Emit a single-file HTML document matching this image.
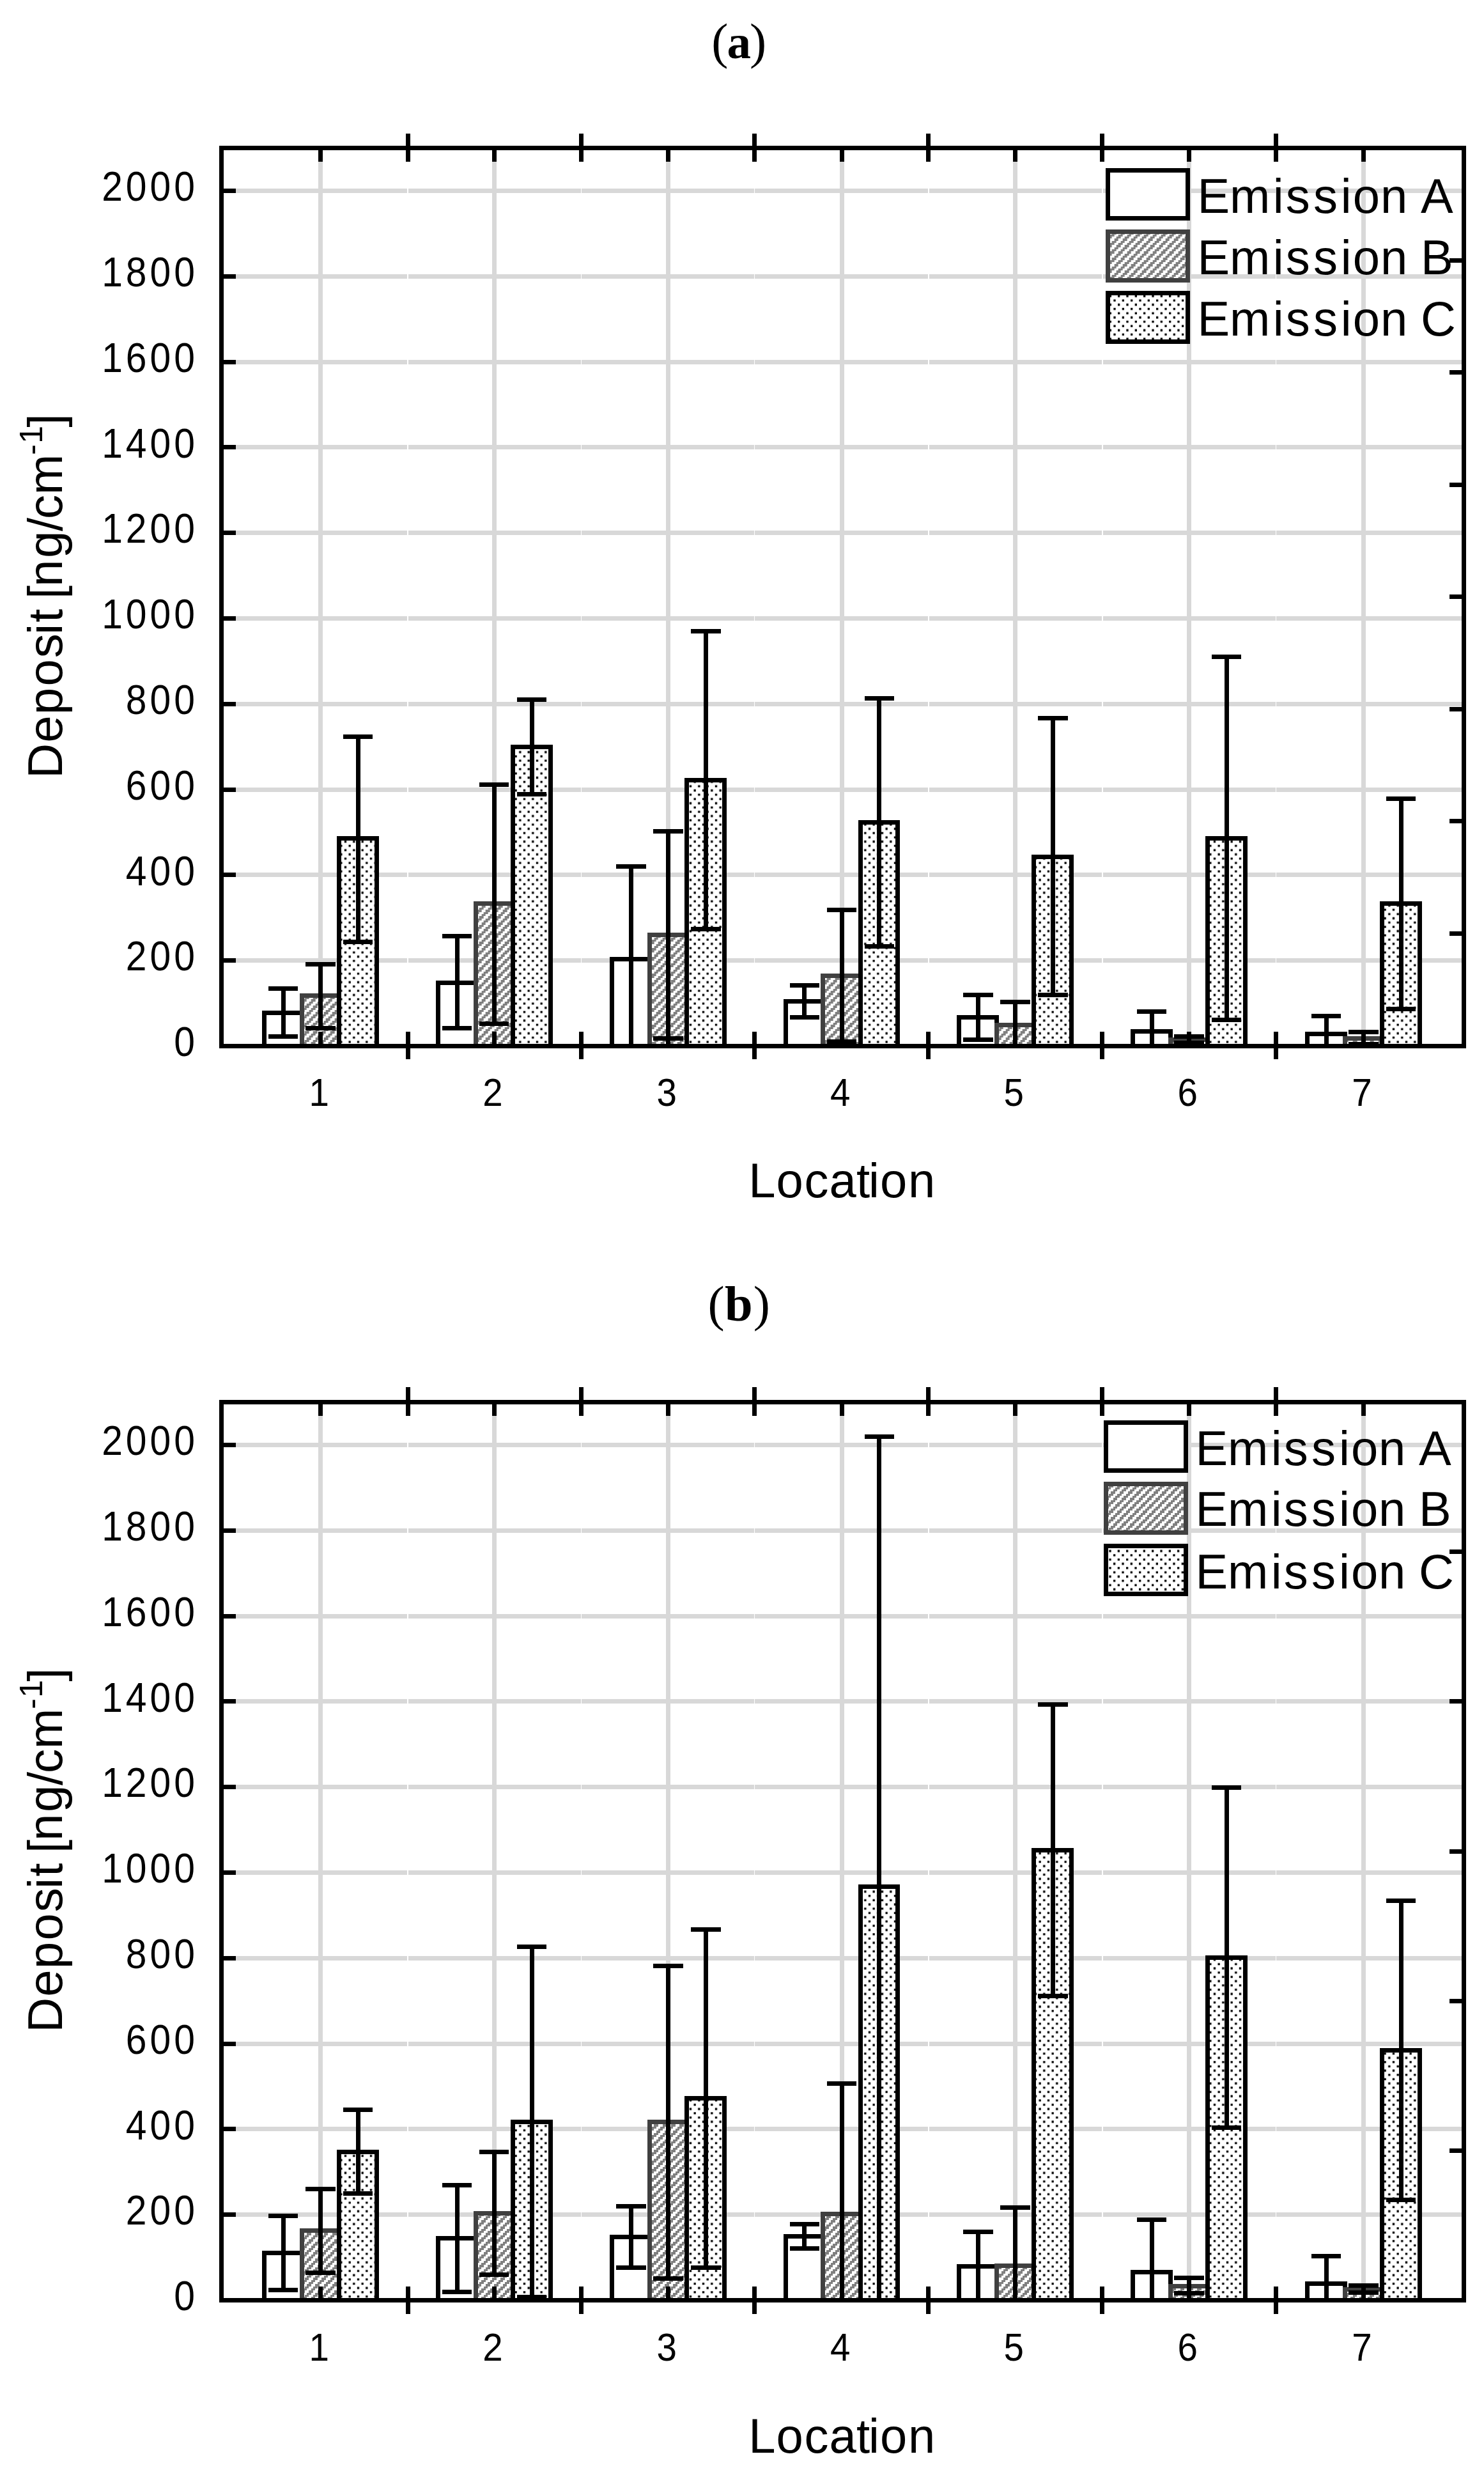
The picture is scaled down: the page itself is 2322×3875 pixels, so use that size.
<!DOCTYPE html>
<html lang="en">
<head>
<meta charset="utf-8">
<title>Deposit by location</title>
<style>
html,body{margin:0;padding:0;background:#fff;}
body{width:2322px;height:3875px;overflow:hidden;}
svg{display:block;}
text{font-family:"Liberation Sans",Arial,sans-serif;fill:#000;}
.tick text{font-size:64px;letter-spacing:5.4px;}
.xt text{font-size:61.5px;}
.ttl{font-size:76px;}
.sup{font-size:50px;}
.cap{font-family:"Liberation Serif","Times New Roman",serif;font-size:78.5px;}
.capb{font-weight:bold;font-size:75px;}
</style>
</head>
<body>
<svg width="2322" height="3875" viewBox="0 0 2322 3875">
<defs>
<pattern id="hatch-a" patternUnits="userSpaceOnUse" x="-3.33" y="0" width="40" height="40"><rect width="40" height="40" fill="#fff"/><path d="M0 0h3.33v3.33h-3.33zM3.33 0h3.33v3.33h-3.33zM13.33 0h3.33v3.33h-3.33zM16.67 0h3.33v3.33h-3.33zM26.67 0h3.33v3.33h-3.33zM30 0h3.33v3.33h-3.33zM0 3.33h3.33v3.33h-3.33zM10 3.33h3.33v3.33h-3.33zM13.33 3.33h3.33v3.33h-3.33zM23.33 3.33h3.33v3.33h-3.33zM26.67 3.33h3.33v3.33h-3.33zM36.67 3.33h3.33v3.33h-3.33zM6.67 6.67h3.33v3.33h-3.33zM10 6.67h3.33v3.33h-3.33zM20 6.67h3.33v3.33h-3.33zM23.33 6.67h3.33v3.33h-3.33zM33.33 6.67h3.33v3.33h-3.33zM36.67 6.67h3.33v3.33h-3.33zM3.33 10h3.33v3.33h-3.33zM6.67 10h3.33v3.33h-3.33zM16.67 10h3.33v3.33h-3.33zM20 10h3.33v3.33h-3.33zM30 10h3.33v3.33h-3.33zM33.33 10h3.33v3.33h-3.33zM0 13.33h3.33v3.33h-3.33zM3.33 13.33h3.33v3.33h-3.33zM13.33 13.33h3.33v3.33h-3.33zM16.67 13.33h3.33v3.33h-3.33zM26.67 13.33h3.33v3.33h-3.33zM30 13.33h3.33v3.33h-3.33zM0 16.67h3.33v3.33h-3.33zM10 16.67h3.33v3.33h-3.33zM13.33 16.67h3.33v3.33h-3.33zM23.33 16.67h3.33v3.33h-3.33zM26.67 16.67h3.33v3.33h-3.33zM36.67 16.67h3.33v3.33h-3.33zM6.67 20h3.33v3.33h-3.33zM10 20h3.33v3.33h-3.33zM20 20h3.33v3.33h-3.33zM23.33 20h3.33v3.33h-3.33zM33.33 20h3.33v3.33h-3.33zM36.67 20h3.33v3.33h-3.33zM3.33 23.33h3.33v3.33h-3.33zM6.67 23.33h3.33v3.33h-3.33zM16.67 23.33h3.33v3.33h-3.33zM20 23.33h3.33v3.33h-3.33zM30 23.33h3.33v3.33h-3.33zM33.33 23.33h3.33v3.33h-3.33zM0 26.67h3.33v3.33h-3.33zM3.33 26.67h3.33v3.33h-3.33zM13.33 26.67h3.33v3.33h-3.33zM16.67 26.67h3.33v3.33h-3.33zM26.67 26.67h3.33v3.33h-3.33zM30 26.67h3.33v3.33h-3.33zM0 30h3.33v3.33h-3.33zM10 30h3.33v3.33h-3.33zM13.33 30h3.33v3.33h-3.33zM23.33 30h3.33v3.33h-3.33zM26.67 30h3.33v3.33h-3.33zM36.67 30h3.33v3.33h-3.33zM6.67 33.33h3.33v3.33h-3.33zM10 33.33h3.33v3.33h-3.33zM20 33.33h3.33v3.33h-3.33zM23.33 33.33h3.33v3.33h-3.33zM33.33 33.33h3.33v3.33h-3.33zM36.67 33.33h3.33v3.33h-3.33zM3.33 36.67h3.33v3.33h-3.33zM6.67 36.67h3.33v3.33h-3.33zM16.67 36.67h3.33v3.33h-3.33zM20 36.67h3.33v3.33h-3.33zM30 36.67h3.33v3.33h-3.33zM33.33 36.67h3.33v3.33h-3.33z" fill="#808080" shape-rendering="crispEdges"/></pattern>
<pattern id="lhatch-a" patternUnits="userSpaceOnUse" x="-3.33" y="0" width="40" height="40"><rect width="40" height="40" fill="#fff"/><path d="M0 0h3.33v3.33h-3.33zM3.33 0h3.33v3.33h-3.33zM13.33 0h3.33v3.33h-3.33zM16.67 0h3.33v3.33h-3.33zM26.67 0h3.33v3.33h-3.33zM30 0h3.33v3.33h-3.33zM0 3.33h3.33v3.33h-3.33zM10 3.33h3.33v3.33h-3.33zM13.33 3.33h3.33v3.33h-3.33zM23.33 3.33h3.33v3.33h-3.33zM26.67 3.33h3.33v3.33h-3.33zM36.67 3.33h3.33v3.33h-3.33zM6.67 6.67h3.33v3.33h-3.33zM10 6.67h3.33v3.33h-3.33zM20 6.67h3.33v3.33h-3.33zM23.33 6.67h3.33v3.33h-3.33zM33.33 6.67h3.33v3.33h-3.33zM36.67 6.67h3.33v3.33h-3.33zM3.33 10h3.33v3.33h-3.33zM6.67 10h3.33v3.33h-3.33zM16.67 10h3.33v3.33h-3.33zM20 10h3.33v3.33h-3.33zM30 10h3.33v3.33h-3.33zM33.33 10h3.33v3.33h-3.33zM0 13.33h3.33v3.33h-3.33zM3.33 13.33h3.33v3.33h-3.33zM13.33 13.33h3.33v3.33h-3.33zM16.67 13.33h3.33v3.33h-3.33zM26.67 13.33h3.33v3.33h-3.33zM30 13.33h3.33v3.33h-3.33zM0 16.67h3.33v3.33h-3.33zM10 16.67h3.33v3.33h-3.33zM13.33 16.67h3.33v3.33h-3.33zM23.33 16.67h3.33v3.33h-3.33zM26.67 16.67h3.33v3.33h-3.33zM36.67 16.67h3.33v3.33h-3.33zM6.67 20h3.33v3.33h-3.33zM10 20h3.33v3.33h-3.33zM20 20h3.33v3.33h-3.33zM23.33 20h3.33v3.33h-3.33zM33.33 20h3.33v3.33h-3.33zM36.67 20h3.33v3.33h-3.33zM3.33 23.33h3.33v3.33h-3.33zM6.67 23.33h3.33v3.33h-3.33zM16.67 23.33h3.33v3.33h-3.33zM20 23.33h3.33v3.33h-3.33zM30 23.33h3.33v3.33h-3.33zM33.33 23.33h3.33v3.33h-3.33zM0 26.67h3.33v3.33h-3.33zM3.33 26.67h3.33v3.33h-3.33zM13.33 26.67h3.33v3.33h-3.33zM16.67 26.67h3.33v3.33h-3.33zM26.67 26.67h3.33v3.33h-3.33zM30 26.67h3.33v3.33h-3.33zM0 30h3.33v3.33h-3.33zM10 30h3.33v3.33h-3.33zM13.33 30h3.33v3.33h-3.33zM23.33 30h3.33v3.33h-3.33zM26.67 30h3.33v3.33h-3.33zM36.67 30h3.33v3.33h-3.33zM6.67 33.33h3.33v3.33h-3.33zM10 33.33h3.33v3.33h-3.33zM20 33.33h3.33v3.33h-3.33zM23.33 33.33h3.33v3.33h-3.33zM33.33 33.33h3.33v3.33h-3.33zM36.67 33.33h3.33v3.33h-3.33zM3.33 36.67h3.33v3.33h-3.33zM6.67 36.67h3.33v3.33h-3.33zM16.67 36.67h3.33v3.33h-3.33zM20 36.67h3.33v3.33h-3.33zM30 36.67h3.33v3.33h-3.33zM33.33 36.67h3.33v3.33h-3.33z" fill="#808080" shape-rendering="crispEdges"/></pattern>
<pattern id="hatch-b" patternUnits="userSpaceOnUse" x="0" y="0" width="40" height="40"><rect width="40" height="40" fill="#fff"/><path d="M0 0h3.33v3.33h-3.33zM3.33 0h3.33v3.33h-3.33zM13.33 0h3.33v3.33h-3.33zM16.67 0h3.33v3.33h-3.33zM26.67 0h3.33v3.33h-3.33zM30 0h3.33v3.33h-3.33zM0 3.33h3.33v3.33h-3.33zM10 3.33h3.33v3.33h-3.33zM13.33 3.33h3.33v3.33h-3.33zM23.33 3.33h3.33v3.33h-3.33zM26.67 3.33h3.33v3.33h-3.33zM36.67 3.33h3.33v3.33h-3.33zM6.67 6.67h3.33v3.33h-3.33zM10 6.67h3.33v3.33h-3.33zM20 6.67h3.33v3.33h-3.33zM23.33 6.67h3.33v3.33h-3.33zM33.33 6.67h3.33v3.33h-3.33zM36.67 6.67h3.33v3.33h-3.33zM3.33 10h3.33v3.33h-3.33zM6.67 10h3.33v3.33h-3.33zM16.67 10h3.33v3.33h-3.33zM20 10h3.33v3.33h-3.33zM30 10h3.33v3.33h-3.33zM33.33 10h3.33v3.33h-3.33zM0 13.33h3.33v3.33h-3.33zM3.33 13.33h3.33v3.33h-3.33zM13.33 13.33h3.33v3.33h-3.33zM16.67 13.33h3.33v3.33h-3.33zM26.67 13.33h3.33v3.33h-3.33zM30 13.33h3.33v3.33h-3.33zM0 16.67h3.33v3.33h-3.33zM10 16.67h3.33v3.33h-3.33zM13.33 16.67h3.33v3.33h-3.33zM23.33 16.67h3.33v3.33h-3.33zM26.67 16.67h3.33v3.33h-3.33zM36.67 16.67h3.33v3.33h-3.33zM6.67 20h3.33v3.33h-3.33zM10 20h3.33v3.33h-3.33zM20 20h3.33v3.33h-3.33zM23.33 20h3.33v3.33h-3.33zM33.33 20h3.33v3.33h-3.33zM36.67 20h3.33v3.33h-3.33zM3.33 23.33h3.33v3.33h-3.33zM6.67 23.33h3.33v3.33h-3.33zM16.67 23.33h3.33v3.33h-3.33zM20 23.33h3.33v3.33h-3.33zM30 23.33h3.33v3.33h-3.33zM33.33 23.33h3.33v3.33h-3.33zM0 26.67h3.33v3.33h-3.33zM3.33 26.67h3.33v3.33h-3.33zM13.33 26.67h3.33v3.33h-3.33zM16.67 26.67h3.33v3.33h-3.33zM26.67 26.67h3.33v3.33h-3.33zM30 26.67h3.33v3.33h-3.33zM0 30h3.33v3.33h-3.33zM10 30h3.33v3.33h-3.33zM13.33 30h3.33v3.33h-3.33zM23.33 30h3.33v3.33h-3.33zM26.67 30h3.33v3.33h-3.33zM36.67 30h3.33v3.33h-3.33zM6.67 33.33h3.33v3.33h-3.33zM10 33.33h3.33v3.33h-3.33zM20 33.33h3.33v3.33h-3.33zM23.33 33.33h3.33v3.33h-3.33zM33.33 33.33h3.33v3.33h-3.33zM36.67 33.33h3.33v3.33h-3.33zM3.33 36.67h3.33v3.33h-3.33zM6.67 36.67h3.33v3.33h-3.33zM16.67 36.67h3.33v3.33h-3.33zM20 36.67h3.33v3.33h-3.33zM30 36.67h3.33v3.33h-3.33zM33.33 36.67h3.33v3.33h-3.33z" fill="#808080" shape-rendering="crispEdges"/></pattern>
<pattern id="lhatch-b" patternUnits="userSpaceOnUse" x="5" y="0" width="40" height="40"><rect width="40" height="40" fill="#fff"/><path d="M0 0h3.33v3.33h-3.33zM3.33 0h3.33v3.33h-3.33zM13.33 0h3.33v3.33h-3.33zM16.67 0h3.33v3.33h-3.33zM26.67 0h3.33v3.33h-3.33zM30 0h3.33v3.33h-3.33zM0 3.33h3.33v3.33h-3.33zM10 3.33h3.33v3.33h-3.33zM13.33 3.33h3.33v3.33h-3.33zM23.33 3.33h3.33v3.33h-3.33zM26.67 3.33h3.33v3.33h-3.33zM36.67 3.33h3.33v3.33h-3.33zM6.67 6.67h3.33v3.33h-3.33zM10 6.67h3.33v3.33h-3.33zM20 6.67h3.33v3.33h-3.33zM23.33 6.67h3.33v3.33h-3.33zM33.33 6.67h3.33v3.33h-3.33zM36.67 6.67h3.33v3.33h-3.33zM3.33 10h3.33v3.33h-3.33zM6.67 10h3.33v3.33h-3.33zM16.67 10h3.33v3.33h-3.33zM20 10h3.33v3.33h-3.33zM30 10h3.33v3.33h-3.33zM33.33 10h3.33v3.33h-3.33zM0 13.33h3.33v3.33h-3.33zM3.33 13.33h3.33v3.33h-3.33zM13.33 13.33h3.33v3.33h-3.33zM16.67 13.33h3.33v3.33h-3.33zM26.67 13.33h3.33v3.33h-3.33zM30 13.33h3.33v3.33h-3.33zM0 16.67h3.33v3.33h-3.33zM10 16.67h3.33v3.33h-3.33zM13.33 16.67h3.33v3.33h-3.33zM23.33 16.67h3.33v3.33h-3.33zM26.67 16.67h3.33v3.33h-3.33zM36.67 16.67h3.33v3.33h-3.33zM6.67 20h3.33v3.33h-3.33zM10 20h3.33v3.33h-3.33zM20 20h3.33v3.33h-3.33zM23.33 20h3.33v3.33h-3.33zM33.33 20h3.33v3.33h-3.33zM36.67 20h3.33v3.33h-3.33zM3.33 23.33h3.33v3.33h-3.33zM6.67 23.33h3.33v3.33h-3.33zM16.67 23.33h3.33v3.33h-3.33zM20 23.33h3.33v3.33h-3.33zM30 23.33h3.33v3.33h-3.33zM33.33 23.33h3.33v3.33h-3.33zM0 26.67h3.33v3.33h-3.33zM3.33 26.67h3.33v3.33h-3.33zM13.33 26.67h3.33v3.33h-3.33zM16.67 26.67h3.33v3.33h-3.33zM26.67 26.67h3.33v3.33h-3.33zM30 26.67h3.33v3.33h-3.33zM0 30h3.33v3.33h-3.33zM10 30h3.33v3.33h-3.33zM13.33 30h3.33v3.33h-3.33zM23.33 30h3.33v3.33h-3.33zM26.67 30h3.33v3.33h-3.33zM36.67 30h3.33v3.33h-3.33zM6.67 33.33h3.33v3.33h-3.33zM10 33.33h3.33v3.33h-3.33zM20 33.33h3.33v3.33h-3.33zM23.33 33.33h3.33v3.33h-3.33zM33.33 33.33h3.33v3.33h-3.33zM36.67 33.33h3.33v3.33h-3.33zM3.33 36.67h3.33v3.33h-3.33zM6.67 36.67h3.33v3.33h-3.33zM16.67 36.67h3.33v3.33h-3.33zM20 36.67h3.33v3.33h-3.33zM30 36.67h3.33v3.33h-3.33zM33.33 36.67h3.33v3.33h-3.33z" fill="#808080" shape-rendering="crispEdges"/></pattern>
<pattern id="dots-a" patternUnits="userSpaceOnUse" x="-1.2" y="1.6" width="40" height="40"><rect width="40" height="40" fill="#fff"/><path d="M0 0h3.33v3.33h-3.33zM13.33 0h3.33v3.33h-3.33zM26.67 0h3.33v3.33h-3.33zM6.67 6.67h3.33v3.33h-3.33zM20 6.67h3.33v3.33h-3.33zM33.33 6.67h3.33v3.33h-3.33zM0 13.33h3.33v3.33h-3.33zM13.33 13.33h3.33v3.33h-3.33zM26.67 13.33h3.33v3.33h-3.33zM6.67 20h3.33v3.33h-3.33zM20 20h3.33v3.33h-3.33zM33.33 20h3.33v3.33h-3.33zM0 26.67h3.33v3.33h-3.33zM13.33 26.67h3.33v3.33h-3.33zM26.67 26.67h3.33v3.33h-3.33zM6.67 33.33h3.33v3.33h-3.33zM20 33.33h3.33v3.33h-3.33zM33.33 33.33h3.33v3.33h-3.33z" fill="#000"/></pattern>
<pattern id="ldots-a" patternUnits="userSpaceOnUse" x="9" y="1.67" width="40" height="40"><rect width="40" height="40" fill="#fff"/><path d="M0 0h3.33v3.33h-3.33zM13.33 0h3.33v3.33h-3.33zM26.67 0h3.33v3.33h-3.33zM6.67 6.67h3.33v3.33h-3.33zM20 6.67h3.33v3.33h-3.33zM33.33 6.67h3.33v3.33h-3.33zM0 13.33h3.33v3.33h-3.33zM13.33 13.33h3.33v3.33h-3.33zM26.67 13.33h3.33v3.33h-3.33zM6.67 20h3.33v3.33h-3.33zM20 20h3.33v3.33h-3.33zM33.33 20h3.33v3.33h-3.33zM0 26.67h3.33v3.33h-3.33zM13.33 26.67h3.33v3.33h-3.33zM26.67 26.67h3.33v3.33h-3.33zM6.67 33.33h3.33v3.33h-3.33zM20 33.33h3.33v3.33h-3.33zM33.33 33.33h3.33v3.33h-3.33z" fill="#000"/></pattern>
<pattern id="dots-b" patternUnits="userSpaceOnUse" x="-1.2" y="4.3" width="40" height="40"><rect width="40" height="40" fill="#fff"/><path d="M0 0h3.33v3.33h-3.33zM13.33 0h3.33v3.33h-3.33zM26.67 0h3.33v3.33h-3.33zM6.67 6.67h3.33v3.33h-3.33zM20 6.67h3.33v3.33h-3.33zM33.33 6.67h3.33v3.33h-3.33zM0 13.33h3.33v3.33h-3.33zM13.33 13.33h3.33v3.33h-3.33zM26.67 13.33h3.33v3.33h-3.33zM6.67 20h3.33v3.33h-3.33zM20 20h3.33v3.33h-3.33zM33.33 20h3.33v3.33h-3.33zM0 26.67h3.33v3.33h-3.33zM13.33 26.67h3.33v3.33h-3.33zM26.67 26.67h3.33v3.33h-3.33zM6.67 33.33h3.33v3.33h-3.33zM20 33.33h3.33v3.33h-3.33zM33.33 33.33h3.33v3.33h-3.33z" fill="#000"/></pattern>
<pattern id="ldots-b" patternUnits="userSpaceOnUse" x="2" y="11.4" width="40" height="40"><rect width="40" height="40" fill="#fff"/><path d="M0 0h3.33v3.33h-3.33zM13.33 0h3.33v3.33h-3.33zM26.67 0h3.33v3.33h-3.33zM6.67 6.67h3.33v3.33h-3.33zM20 6.67h3.33v3.33h-3.33zM33.33 6.67h3.33v3.33h-3.33zM0 13.33h3.33v3.33h-3.33zM13.33 13.33h3.33v3.33h-3.33zM26.67 13.33h3.33v3.33h-3.33zM6.67 20h3.33v3.33h-3.33zM20 20h3.33v3.33h-3.33zM33.33 20h3.33v3.33h-3.33zM0 26.67h3.33v3.33h-3.33zM13.33 26.67h3.33v3.33h-3.33zM26.67 26.67h3.33v3.33h-3.33zM6.67 33.33h3.33v3.33h-3.33zM20 33.33h3.33v3.33h-3.33zM33.33 33.33h3.33v3.33h-3.33z" fill="#000"/></pattern>
</defs>
<rect width="2322" height="3875" fill="#fff"/>
<g id="chart-a">
<path d="M346.5 1502.6H2290.7M346.5 1368.8H2290.7M346.5 1235H2290.7M346.5 1101.2H2290.7M346.5 967.4H2290.7M346.5 833.6H2290.7M346.5 699.8H2290.7M346.5 566H2290.7M346.5 432.2H2290.7M346.5 298.4H2290.7M501.6 231.5V1636M773.4 231.5V1636M1045.7 231.5V1636M1317.2 231.5V1636M1588.7 231.5V1636M1860.6 231.5V1636M2133.5 231.5V1636" stroke="#d8d8d8" stroke-width="7" fill="none" shape-rendering="crispEdges"/>
<path d="M638 241.5V1626M909.6 241.5V1626M1180.7 241.5V1626M1452.9 241.5V1626M1724.8 241.5V1626M1996.5 241.5V1626" stroke="#fff" stroke-width="1.5" fill="none" shape-rendering="crispEdges"/>
<rect x="413.85" y="1584.22" width="58.5" height="51.78" fill="#fff" stroke="#000" stroke-width="7" shape-rendering="crispEdges"/>
<rect x="472.35" y="1557.66" width="58.5" height="78.34" fill="url(#hatch-a)" stroke="#404040" stroke-width="7" shape-rendering="crispEdges"/>
<rect x="530.85" y="1311.93" width="58.5" height="324.07" fill="url(#dots-a)" stroke="#000" stroke-width="7" shape-rendering="crispEdges"/>
<rect x="685.65" y="1537.05" width="58.5" height="98.95" fill="#fff" stroke="#000" stroke-width="7" shape-rendering="crispEdges"/>
<rect x="744.15" y="1413.82" width="58.5" height="222.18" fill="url(#hatch-a)" stroke="#404040" stroke-width="7" shape-rendering="crispEdges"/>
<rect x="802.65" y="1168.43" width="58.5" height="467.57" fill="url(#dots-a)" stroke="#000" stroke-width="7" shape-rendering="crispEdges"/>
<rect x="957.95" y="1500.99" width="58.5" height="135.01" fill="#fff" stroke="#000" stroke-width="7" shape-rendering="crispEdges"/>
<rect x="1016.45" y="1462.46" width="58.5" height="173.54" fill="url(#hatch-a)" stroke="#404040" stroke-width="7" shape-rendering="crispEdges"/>
<rect x="1074.95" y="1220.68" width="58.5" height="415.32" fill="url(#dots-a)" stroke="#000" stroke-width="7" shape-rendering="crispEdges"/>
<rect x="1229.45" y="1566.16" width="58.5" height="69.84" fill="#fff" stroke="#000" stroke-width="7" shape-rendering="crispEdges"/>
<rect x="1287.95" y="1526.75" width="58.5" height="109.25" fill="url(#hatch-a)" stroke="#404040" stroke-width="7" shape-rendering="crispEdges"/>
<rect x="1346.45" y="1286.51" width="58.5" height="349.49" fill="url(#dots-a)" stroke="#000" stroke-width="7" shape-rendering="crispEdges"/>
<rect x="1500.95" y="1591.51" width="58.5" height="44.49" fill="#fff" stroke="#000" stroke-width="7" shape-rendering="crispEdges"/>
<rect x="1559.45" y="1603.28" width="58.5" height="32.72" fill="url(#hatch-a)" stroke="#404040" stroke-width="7" shape-rendering="crispEdges"/>
<rect x="1617.95" y="1340.23" width="58.5" height="295.77" fill="url(#dots-a)" stroke="#000" stroke-width="7" shape-rendering="crispEdges"/>
<rect x="1772.85" y="1613.65" width="58.5" height="22.35" fill="#fff" stroke="#000" stroke-width="7" shape-rendering="crispEdges"/>
<rect x="1831.35" y="1626.63" width="58.5" height="9.37" fill="url(#hatch-a)" stroke="#404040" stroke-width="7" shape-rendering="crispEdges"/>
<rect x="1889.85" y="1311.53" width="58.5" height="324.47" fill="url(#dots-a)" stroke="#000" stroke-width="7" shape-rendering="crispEdges"/>
<rect x="2045.75" y="1617.73" width="58.5" height="18.27" fill="#fff" stroke="#000" stroke-width="7" shape-rendering="crispEdges"/>
<rect x="2104.25" y="1624.36" width="58.5" height="11.64" fill="url(#hatch-a)" stroke="#404040" stroke-width="7" shape-rendering="crispEdges"/>
<rect x="2162.75" y="1413.62" width="58.5" height="222.38" fill="url(#dots-a)" stroke="#000" stroke-width="7" shape-rendering="crispEdges"/>
<path d="M501.6 1636V1614M501.6 231.5V252.8M773.4 1636V1614M773.4 231.5V252.8M1045.7 1636V1614M1045.7 231.5V252.8M1317.2 1636V1614M1317.2 231.5V252.8M1588.7 1636V1614M1588.7 231.5V252.8M1860.6 1636V1614M1860.6 231.5V252.8M2133.5 1636V1614M2133.5 231.5V252.8M443.2 1546.75V1621.68M420 1546.75H466.4M420 1621.68H466.4M501.4 1508.35V1608.1M478.2 1508.35H524.6M478.2 1608.1H524.6M560.2 1152.04V1473.83M537 1152.04H583.4M537 1473.83H583.4M715 1464.94V1608.44M691.8 1464.94H738.2M691.8 1608.44H738.2M773.2 1227.31V1601.08M750 1227.31H796.4M750 1601.08H796.4M832 1094.51V1242.76M808.8 1094.51H855.2M808.8 1242.76H855.2M987.3 1355.69V1636M964.1 1355.69H1010.5M1045.5 1300.56V1624.63M1022.3 1300.56H1068.7M1022.3 1624.63H1068.7M1104.3 987.47V1453.16M1081.1 987.47H1127.5M1081.1 1453.16H1127.5M1258.8 1541.13V1591.58M1235.6 1541.13H1282M1235.6 1591.58H1282M1317 1423.72V1629.71M1293.8 1423.72H1340.2M1293.8 1629.71H1340.2M1375.8 1092.64V1480.79M1352.6 1092.64H1399M1352.6 1480.79H1399M1530.3 1556.59V1626.1M1507.1 1556.59H1553.5M1507.1 1626.1H1553.5M1588.5 1567.63V1636M1565.3 1567.63H1611.7M1647.3 1123.54V1556.92M1624.1 1123.54H1670.5M1624.1 1556.92H1670.5M1802.2 1582.61V1636M1779 1582.61H1825.4M1860.4 1621.41V1631.05M1837.2 1621.41H1883.6M1837.2 1631.05H1883.6M1919.2 1027.14V1595.59M1896 1027.14H1942.4M1896 1595.59H1942.4M2075.1 1589.7V1636M2051.9 1589.7H2098.3M2133.3 1614.19V1633.06M2110.1 1614.19H2156.5M2110.1 1633.06H2156.5M2192.1 1249.05V1578.2M2168.9 1249.05H2215.3M2168.9 1578.2H2215.3M346.5 231.5H2290.7V1636H346.5ZM346.5 1502.6H368.7M346.5 1368.8H368.7M346.5 1235H368.7M346.5 1101.2H368.7M346.5 967.4H368.7M346.5 833.6H368.7M346.5 699.8H368.7M346.5 566H368.7M346.5 432.2H368.7M346.5 298.4H368.7M2290.7 1460.44H2268M2290.7 1284.88H2268M2290.7 1109.31H2268M2290.7 933.75H2268M2290.7 758.19H2268M2290.7 582.62H2268M2290.7 407.06H2268M638 1614V1657.3M638 208.5V252.8M909.6 1614V1657.3M909.6 208.5V252.8M1180.7 1614V1657.3M1180.7 208.5V252.8M1452.9 1614V1657.3M1452.9 208.5V252.8M1724.8 1614V1657.3M1724.8 208.5V252.8M1996.5 1614V1657.3M1996.5 208.5V252.8" stroke="#000" stroke-width="7" fill="none" stroke-linejoin="miter" shape-rendering="crispEdges"/>
<g class="tick" text-anchor="end">
<text transform="translate(310 1652.1) scale(0.92 1)">0</text>
<text transform="translate(310 1518.3) scale(0.92 1)">200</text>
<text transform="translate(310 1384.5) scale(0.92 1)">400</text>
<text transform="translate(310 1250.7) scale(0.92 1)">600</text>
<text transform="translate(310 1116.9) scale(0.92 1)">800</text>
<text transform="translate(310 983.1) scale(0.92 1)">1000</text>
<text transform="translate(310 849.3) scale(0.92 1)">1200</text>
<text transform="translate(310 715.5) scale(0.92 1)">1400</text>
<text transform="translate(310 581.7) scale(0.92 1)">1600</text>
<text transform="translate(310 447.9) scale(0.92 1)">1800</text>
<text transform="translate(310 314.1) scale(0.92 1)">2000</text>
</g>
<g class="tick xt" text-anchor="middle">
<text transform="translate(501.6 1729.5) scale(0.92 1)">1</text>
<text transform="translate(773.4 1729.5) scale(0.92 1)">2</text>
<text transform="translate(1045.7 1729.5) scale(0.92 1)">3</text>
<text transform="translate(1317.2 1729.5) scale(0.92 1)">4</text>
<text transform="translate(1588.7 1729.5) scale(0.92 1)">5</text>
<text transform="translate(1860.6 1729.5) scale(0.92 1)">6</text>
<text transform="translate(2133.5 1729.5) scale(0.92 1)">7</text>
</g>
<text class="ttl" x="1171.2 1214.6 1258.5 1297.6 1340.1 1359.1 1377.1 1421.1" y="1873">Location</text>
<text class="ttl" transform="translate(97.1 1217.8) rotate(-90)" x="0 56 99.8 144.4 188.5 225 244 265 280.9 300 344.9 386.8 405.8 443.8" y="0">Deposit [ng/cm<tspan class="sup" x="506 524.1" dy="-31">-1</tspan><tspan x="549.2" dy="31">]</tspan></text>
<rect x="1733.8" y="266.5" width="124.4" height="75.1" fill="#fff" stroke="#000" stroke-width="7" shape-rendering="crispEdges"/>
<text class="ttl" x="1873.4 1923.9 1991.7 2011.7 2055 2097.8 2116.8 2159.9 2203.4 2223" y="332.5">Emission A</text>
<rect x="1733.8" y="362.7" width="124.4" height="75.5" fill="url(#lhatch-a)" stroke="#404040" stroke-width="7" shape-rendering="crispEdges"/>
<text class="ttl" x="1873.4 1923.9 1991.7 2011.7 2055 2097.8 2116.8 2159.9 2203.4 2223" y="428.7">Emission B</text>
<rect x="1733.8" y="458.6" width="124.4" height="75.8" fill="url(#ldots-a)" stroke="#000" stroke-width="7" shape-rendering="crispEdges"/>
<text class="ttl" x="1873.4 1923.9 1991.7 2011.7 2055 2097.8 2116.8 2159.9 2203.4 2223" y="524.6">Emission C</text>
<text class="cap" x="1156.2" y="91.3" text-anchor="middle">(<tspan class="capb" dx="-1.8" style="font-size:75px">a</tspan><tspan dx="-2">)</tspan></text>
</g>
<g id="chart-b">
<path d="M346.5 3464.7H2290.7M346.5 3330.9H2290.7M346.5 3197.1H2290.7M346.5 3063.3H2290.7M346.5 2929.5H2290.7M346.5 2795.7H2290.7M346.5 2661.9H2290.7M346.5 2528.1H2290.7M346.5 2394.3H2290.7M346.5 2260.5H2290.7M501.6 2193.4V3598.6M773.4 2193.4V3598.6M1045.7 2193.4V3598.6M1317.2 2193.4V3598.6M1588.7 2193.4V3598.6M1860.6 2193.4V3598.6M2133.5 2193.4V3598.6" stroke="#d8d8d8" stroke-width="7" fill="none" shape-rendering="crispEdges"/>
<path d="M638 2203.4V3588.6M909.6 2203.4V3588.6M1180.7 2203.4V3588.6M1452.9 2203.4V3588.6M1724.8 2203.4V3588.6M1996.5 2203.4V3588.6" stroke="#fff" stroke-width="1.5" fill="none" shape-rendering="crispEdges"/>
<rect x="413.85" y="3524.51" width="58.5" height="74.09" fill="#fff" stroke="#000" stroke-width="7" shape-rendering="crispEdges"/>
<rect x="472.35" y="3489.52" width="58.5" height="109.08" fill="url(#hatch-b)" stroke="#404040" stroke-width="7" shape-rendering="crispEdges"/>
<rect x="530.85" y="3366.36" width="58.5" height="232.24" fill="url(#dots-b)" stroke="#000" stroke-width="7" shape-rendering="crispEdges"/>
<rect x="685.65" y="3501.29" width="58.5" height="97.31" fill="#fff" stroke="#000" stroke-width="7" shape-rendering="crispEdges"/>
<rect x="744.15" y="3462.29" width="58.5" height="136.31" fill="url(#hatch-b)" stroke="#404040" stroke-width="7" shape-rendering="crispEdges"/>
<rect x="802.65" y="3319.19" width="58.5" height="279.41" fill="url(#dots-b)" stroke="#000" stroke-width="7" shape-rendering="crispEdges"/>
<rect x="957.95" y="3499.69" width="58.5" height="98.91" fill="#fff" stroke="#000" stroke-width="7" shape-rendering="crispEdges"/>
<rect x="1016.45" y="3319.39" width="58.5" height="279.21" fill="url(#hatch-b)" stroke="#404040" stroke-width="7" shape-rendering="crispEdges"/>
<rect x="1074.95" y="3282.6" width="58.5" height="316" fill="url(#dots-b)" stroke="#000" stroke-width="7" shape-rendering="crispEdges"/>
<rect x="1229.45" y="3498.55" width="58.5" height="100.05" fill="#fff" stroke="#000" stroke-width="7" shape-rendering="crispEdges"/>
<rect x="1287.95" y="3463.63" width="58.5" height="134.97" fill="url(#hatch-b)" stroke="#404040" stroke-width="7" shape-rendering="crispEdges"/>
<rect x="1346.45" y="2951.58" width="58.5" height="647.02" fill="url(#dots-b)" stroke="#000" stroke-width="7" shape-rendering="crispEdges"/>
<rect x="1500.95" y="3545.85" width="58.5" height="52.75" fill="#fff" stroke="#000" stroke-width="7" shape-rendering="crispEdges"/>
<rect x="1559.45" y="3544.71" width="58.5" height="53.89" fill="url(#hatch-b)" stroke="#404040" stroke-width="7" shape-rendering="crispEdges"/>
<rect x="1617.95" y="2894.51" width="58.5" height="704.09" fill="url(#dots-b)" stroke="#000" stroke-width="7" shape-rendering="crispEdges"/>
<rect x="1772.85" y="3554.48" width="58.5" height="44.12" fill="#fff" stroke="#000" stroke-width="7" shape-rendering="crispEdges"/>
<rect x="1831.35" y="3576.09" width="58.5" height="22.51" fill="url(#hatch-b)" stroke="#404040" stroke-width="7" shape-rendering="crispEdges"/>
<rect x="1889.85" y="3062.43" width="58.5" height="536.17" fill="url(#dots-b)" stroke="#000" stroke-width="7" shape-rendering="crispEdges"/>
<rect x="2045.75" y="3572.41" width="58.5" height="26.19" fill="#fff" stroke="#000" stroke-width="7" shape-rendering="crispEdges"/>
<rect x="2104.25" y="3581.51" width="58.5" height="17.09" fill="url(#hatch-b)" stroke="#404040" stroke-width="7" shape-rendering="crispEdges"/>
<rect x="2162.75" y="3207.07" width="58.5" height="391.53" fill="url(#dots-b)" stroke="#000" stroke-width="7" shape-rendering="crispEdges"/>
<path d="M501.6 3598.6V3576.6M501.6 2193.4V2214.7M773.4 3598.6V3576.6M773.4 2193.4V2214.7M1045.7 3598.6V3576.6M1045.7 2193.4V2214.7M1317.2 3598.6V3576.6M1317.2 2193.4V2214.7M1588.7 3598.6V3576.6M1588.7 2193.4V2214.7M1860.6 3598.6V3576.6M1860.6 2193.4V2214.7M2133.5 3598.6V3576.6M2133.5 2193.4V2214.7M443.2 3466.04V3582.24M420 3466.04H466.4M420 3582.24H466.4M501.4 3424.02V3555.35M478.2 3424.02H524.6M478.2 3555.35H524.6M560.2 3300.8V3431.79M537 3300.8H583.4M537 3431.79H583.4M715 3418.54V3585.92M691.8 3418.54H738.2M691.8 3585.92H738.2M773.2 3366.62V3558.36M750 3366.62H796.4M750 3558.36H796.4M832 3045.5V3593.82M808.8 3045.5H855.2M808.8 3593.82H855.2M987.3 3451.86V3547.52M964.1 3451.86H1010.5M964.1 3547.52H1010.5M1045.5 3075.48V3564.78M1022.3 3075.48H1068.7M1022.3 3564.78H1068.7M1104.3 3018.08V3547.52M1081.1 3018.08H1127.5M1081.1 3547.52H1127.5M1258.8 3479.82V3517.68M1235.6 3479.82H1282M1235.6 3517.68H1282M1317 3259.05V3598.6M1293.8 3259.05H1340.2M1375.8 2247.79V3598.6M1352.6 2247.79H1399M1530.3 3491.73V3598.6M1507.1 3491.73H1553.5M1588.5 3453.26V3598.6M1565.3 3453.26H1611.7M1647.3 2666.11V3122.51M1624.1 2666.11H1670.5M1624.1 3122.51H1670.5M1802.2 3472.86V3598.6M1779 3472.86H1825.4M1860.4 3563.18V3587.86M1837.2 3563.18H1883.6M1837.2 3587.86H1883.6M1919.2 2796.37V3328.89M1896 2796.37H1942.4M1896 3328.89H1942.4M2075.1 3529.19V3598.6M2051.9 3529.19H2098.3M2133.3 3575.29V3586.59M2110.1 3575.29H2156.5M2110.1 3586.59H2156.5M2192.1 2973.32V3441.02M2168.9 2973.32H2215.3M2168.9 3441.02H2215.3M346.5 2193.4H2290.7V3598.6H346.5ZM346.5 3464.7H368.7M346.5 3330.9H368.7M346.5 3197.1H368.7M346.5 3063.3H368.7M346.5 2929.5H368.7M346.5 2795.7H368.7M346.5 2661.9H368.7M346.5 2528.1H368.7M346.5 2394.3H368.7M346.5 2260.5H368.7M2290.7 3364.4H2268M2290.7 3130.2H2268M2290.7 2896H2268M2290.7 2661.8H2268M2290.7 2427.6H2268M638 3576.6V3619.9M638 2170.4V2214.7M909.6 3576.6V3619.9M909.6 2170.4V2214.7M1180.7 3576.6V3619.9M1180.7 2170.4V2214.7M1452.9 3576.6V3619.9M1452.9 2170.4V2214.7M1724.8 3576.6V3619.9M1724.8 2170.4V2214.7M1996.5 3576.6V3619.9M1996.5 2170.4V2214.7" stroke="#000" stroke-width="7" fill="none" stroke-linejoin="miter" shape-rendering="crispEdges"/>
<g class="tick" text-anchor="end">
<text transform="translate(310 3614.2) scale(0.92 1)">0</text>
<text transform="translate(310 3480.4) scale(0.92 1)">200</text>
<text transform="translate(310 3346.6) scale(0.92 1)">400</text>
<text transform="translate(310 3212.8) scale(0.92 1)">600</text>
<text transform="translate(310 3079) scale(0.92 1)">800</text>
<text transform="translate(310 2945.2) scale(0.92 1)">1000</text>
<text transform="translate(310 2811.4) scale(0.92 1)">1200</text>
<text transform="translate(310 2677.6) scale(0.92 1)">1400</text>
<text transform="translate(310 2543.8) scale(0.92 1)">1600</text>
<text transform="translate(310 2410) scale(0.92 1)">1800</text>
<text transform="translate(310 2276.2) scale(0.92 1)">2000</text>
</g>
<g class="tick xt" text-anchor="middle">
<text transform="translate(501.6 3692.9) scale(0.92 1)">1</text>
<text transform="translate(773.4 3692.9) scale(0.92 1)">2</text>
<text transform="translate(1045.7 3692.9) scale(0.92 1)">3</text>
<text transform="translate(1317.2 3692.9) scale(0.92 1)">4</text>
<text transform="translate(1588.7 3692.9) scale(0.92 1)">5</text>
<text transform="translate(1860.6 3692.9) scale(0.92 1)">6</text>
<text transform="translate(2133.5 3692.9) scale(0.92 1)">7</text>
</g>
<text class="ttl" x="1171.2 1214.6 1258.5 1297.6 1340.1 1359.1 1377.1 1421.1" y="3837">Location</text>
<text class="ttl" transform="translate(97.1 3179.8) rotate(-90)" x="0 56 99.8 144.4 188.5 225 244 265 280.9 300 344.9 386.8 405.8 443.8" y="0">Deposit [ng/cm<tspan class="sup" x="506 524.1" dy="-31">-1</tspan><tspan x="549.2" dy="31">]</tspan></text>
<rect x="1730.55" y="2225.7" width="124.85" height="75.1" fill="#fff" stroke="#000" stroke-width="7" shape-rendering="crispEdges"/>
<text class="ttl" x="1870.5 1921 1988.8 2008.8 2052.1 2094.9 2113.9 2157 2200.5 2220.1" y="2291.7">Emission A</text>
<rect x="1730.55" y="2321.4" width="124.85" height="76" fill="url(#lhatch-b)" stroke="#404040" stroke-width="7" shape-rendering="crispEdges"/>
<text class="ttl" x="1870.5 1921 1988.8 2008.8 2052.1 2094.9 2113.9 2157 2200.5 2220.1" y="2387.4">Emission B</text>
<rect x="1730.55" y="2418.7" width="124.85" height="74.5" fill="url(#ldots-b)" stroke="#000" stroke-width="7" shape-rendering="crispEdges"/>
<text class="ttl" x="1870.5 1921 1988.8 2008.8 2052.1 2094.9 2113.9 2157 2200.5 2220.1" y="2484.7">Emission C</text>
<text class="cap" x="1156.2" y="2066" text-anchor="middle">(<tspan class="capb" dx="0.5" style="font-size:78.5px">b</tspan><tspan dx="1">)</tspan></text>
</g>
</svg>
</body>
</html>
